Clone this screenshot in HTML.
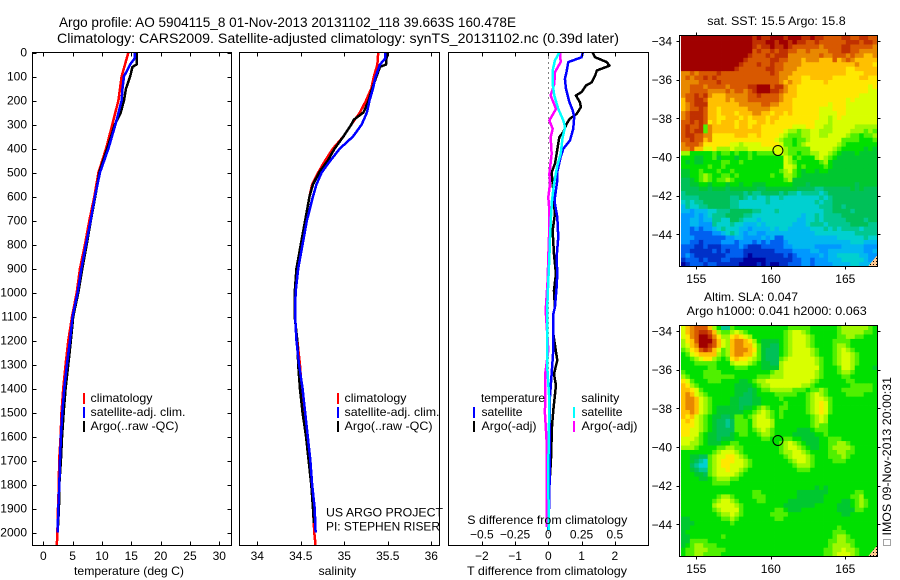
<!DOCTYPE html>
<html lang="en">
<head>
<meta charset="utf-8">
<title>Argo profile chart</title>
<style>
html,body{margin:0;padding:0;background:#fff;width:900px;height:580px;overflow:hidden}
svg{display:block;font-family:"Liberation Sans",sans-serif;font-size:12px;fill:#000}
.t14{font-size:14px}
</style>
</head>
<body>
<svg id="chart" xmlns="http://www.w3.org/2000/svg" width="900" height="580" viewBox="0 0 900 580">
  <defs>
    <pattern id="land" width="3" height="3" patternUnits="userSpaceOnUse">
      <rect width="3" height="3" fill="#ffc890"/>
      <rect width="1" height="1" fill="#000"/>
    </pattern>
  </defs>
  <rect width="900" height="580" fill="#fff"/>
  <text class="t14" x="59" y="27" textLength="457" lengthAdjust="spacingAndGlyphs">Argo profile: AO 5904115_8 01-Nov-2013 20131102_118 39.663S 160.478E</text>
  <text class="t14" x="57" y="43" textLength="562" lengthAdjust="spacingAndGlyphs">Climatology: CARS2009. Satellite-adjusted climatology: synTS_20131102.nc (0.39d later)</text>

  <g id="maps"></g>
  <g id="panels"></g>

  <text x="74" y="575" textLength="110" lengthAdjust="spacingAndGlyphs">temperature (deg C)</text>
  <text x="318.5" y="575" textLength="37.7" lengthAdjust="spacingAndGlyphs">salinity</text>
  <text x="467" y="575" textLength="160" lengthAdjust="spacingAndGlyphs">T difference from climatology</text>
  <text x="467.3" y="524" textLength="160" lengthAdjust="spacingAndGlyphs">S difference from climatology</text>

  <g>
    <rect x="83" y="393" width="2" height="11" fill="#f00"/>
    <rect x="83" y="407" width="2" height="11" fill="#00f"/>
    <rect x="83" y="421" width="2" height="11" fill="#000"/>
    <text x="90.5" y="402" textLength="62" lengthAdjust="spacingAndGlyphs">climatology</text>
    <text x="90.5" y="416" textLength="95" lengthAdjust="spacingAndGlyphs">satellite-adj. clim.</text>
    <text x="90.5" y="430" textLength="88" lengthAdjust="spacingAndGlyphs">Argo(..raw -QC)</text>
  </g>
  <g>
    <rect x="337" y="393" width="2" height="11" fill="#f00"/>
    <rect x="337" y="407" width="2" height="11" fill="#00f"/>
    <rect x="337" y="421" width="2" height="11" fill="#000"/>
    <text x="344.5" y="402" textLength="62" lengthAdjust="spacingAndGlyphs">climatology</text>
    <text x="344.5" y="416" textLength="95" lengthAdjust="spacingAndGlyphs">satellite-adj. clim.</text>
    <text x="344.5" y="430" textLength="88" lengthAdjust="spacingAndGlyphs">Argo(..raw -QC)</text>
  </g>
  <g>
    <text x="481" y="402" textLength="64" lengthAdjust="spacingAndGlyphs">temperature</text>
    <rect x="473" y="407" width="2" height="11" fill="#00f"/>
    <rect x="473" y="421" width="2" height="11" fill="#000"/>
    <text x="481.5" y="416" textLength="41" lengthAdjust="spacingAndGlyphs">satellite</text>
    <text x="481.5" y="430" textLength="55" lengthAdjust="spacingAndGlyphs">Argo(-adj)</text>
    <text x="581.3" y="402" textLength="38" lengthAdjust="spacingAndGlyphs">salinity</text>
    <rect x="573" y="407" width="2" height="11" fill="#0ff"/>
    <rect x="573" y="421" width="2" height="11" fill="#f0f"/>
    <text x="581.5" y="416" textLength="41" lengthAdjust="spacingAndGlyphs">satellite</text>
    <text x="581.5" y="430" textLength="56" lengthAdjust="spacingAndGlyphs">Argo(-adj)</text>
  </g>

  <text x="326" y="516.5" textLength="117" lengthAdjust="spacingAndGlyphs">US ARGO PROJECT</text>
  <text x="326" y="530.5" textLength="114" lengthAdjust="spacingAndGlyphs">PI: STEPHEN RISER</text>

  <text x="707.3" y="25" textLength="138.4" lengthAdjust="spacingAndGlyphs">sat. SST: 15.5 Argo: 15.8</text>
  <text x="704" y="301" textLength="94" lengthAdjust="spacingAndGlyphs">Altim. SLA: 0.047</text>
  <text x="686.7" y="315" textLength="180" lengthAdjust="spacingAndGlyphs">Argo h1000: 0.041 h2000: 0.063</text>

  <rect x="883.5" y="539.5" width="7" height="6" fill="none" stroke="#444" stroke-width="1" stroke-dasharray="1 1"/>
  <text transform="rotate(-90 891 535.5)" x="891" y="535.5" textLength="158.5" lengthAdjust="spacingAndGlyphs">IMOS 09-Nov-2013 20:00:31</text>
</svg>
<script>
/* ---------- profile data (depth in m) ---------- */
const tempTicks = [0, 5, 10, 15, 20, 25, 30];
const salTicks = [34, 34.5, 35, 35.5, 36];
const salTickLabels = ['34', '34.5', '35', '35.5', '36'];
const depthTicks = [0, 100, 200, 300, 400, 500, 600, 700, 800, 900, 1000, 1100, 1200, 1300, 1400, 1500, 1600, 1700, 1800, 1900, 2000];
const tDiffTicks = [-2, -1, 0, 1, 2];
const sDiffTicks = [-0.5, -0.25, 0, 0.25, 0.5];
const sDiffTickLabels = ['\u22120.5', '\u22120.25', '0', '0.25', '0.5'];

const climDepth = [0, 100, 200, 300, 400, 500, 600, 700, 800, 900, 1000, 1100, 1200, 1300, 1400, 1500, 1600, 1700, 1800, 1900, 2000, 2055];
const tempClim = [14.5, 13.35, 12.8, 11.76, 10.7, 9.4, 8.7, 7.85, 7.1, 6.25, 5.7, 4.9, 4.26, 3.8, 3.4, 3.1, 2.95, 2.7, 2.65, 2.5, 2.4, 2.3];

const tempSatDepth = [0, 25, 50, 100, 150, 200, 300, 400, 500, 600, 700, 800, 900, 1000, 1100, 1200, 1300, 1400, 1500, 1600, 1700, 1800, 1900, 2000];
const tempSat = [15.6, 15.55, 14.8, 13.75, 13.5, 13.35, 12.3, 11.1, 9.66, 8.8, 8.07, 7.27, 6.5, 5.85, 5.0, 4.55, 4.03, 3.58, 3.24, 3.0, 2.84, 2.73, 2.56, 2.44];

const tempArgoDepth = [0, 50, 60, 100, 150, 200, 250, 300, 400, 500, 600, 700, 800, 900, 1000, 1100, 1200, 1300, 1400, 1500, 1600, 1700, 1800, 1900, 2000];
const tempArgo = [15.9, 15.9, 15.2, 14.8, 14.1, 13.75, 13.2, 12.2, 10.9, 9.55, 8.86, 8.1, 7.4, 6.65, 5.97, 5.1, 4.7, 4.26, 3.8, 3.47, 3.2, 3.0, 2.73, 2.67, 2.44];

const salClimDepth = [0, 50, 100, 150, 200, 250, 280, 300, 350, 400, 450, 500, 550, 600, 700, 800, 900, 1000, 1100, 1200, 1300, 1400, 1500, 1600, 1700, 1800, 1900, 2000, 2055];
const salClim = [35.39, 35.38, 35.34, 35.31, 35.25, 35.18, 35.12, 35.08, 34.99, 34.87, 34.78, 34.7, 34.63, 34.6, 34.55, 34.51, 34.45, 34.43, 34.43, 34.46, 34.49, 34.51, 34.54, 34.57, 34.6, 34.62, 34.64, 34.655, 34.67];

const salSatDepth = [0, 25, 50, 100, 150, 200, 250, 300, 350, 400, 450, 500, 550, 600, 700, 800, 900, 1000, 1100, 1200, 1300, 1400, 1500, 1600, 1700, 1800, 1900, 2000];
const salSat = [35.47, 35.47, 35.41, 35.36, 35.33, 35.29, 35.26, 35.2, 35.1, 34.95, 34.84, 34.74, 34.68, 34.64, 34.57, 34.52, 34.47, 34.44, 34.435, 34.45, 34.48, 34.52, 34.55, 34.58, 34.61, 34.63, 34.66, 34.67];

const salArgoDepth = [0, 50, 60, 100, 150, 200, 250, 280, 300, 350, 400, 450, 500, 550, 600, 700, 800, 900, 1000, 1100, 1200, 1300, 1400, 1500, 1600, 1700, 1800, 1900, 1960];
const salArgo = [35.49, 35.48, 35.41, 35.37, 35.32, 35.28, 35.22, 35.11, 35.08, 34.99, 34.89, 34.81, 34.71, 34.64, 34.6, 34.55, 34.5, 34.45, 34.43, 34.43, 34.46, 34.47, 34.49, 34.52, 34.56, 34.59, 34.62, 34.64, 34.65];

const tDiffSatDepth = [0, 20, 40, 80, 110, 150, 205, 240, 267, 318, 367, 401, 436, 498, 533, 603, 631, 686, 769, 853, 922, 978, 1061, 1090, 1240, 1340, 1435, 1660, 1866, 1990];
const tDiffSat = [1.04, 1.0, 0.6, 0.55, 0.5, 0.53, 0.63, 0.73, 0.78, 0.75, 0.65, 0.45, 0.37, 0.27, 0.27, 0.2, 0.2, 0.27, 0.3, 0.25, 0.27, 0.25, 0.2, 0.15, 0.15, 0.1, 0.05, 0.05, 0.03, 0];

const tDiffArgoDepth = [0, 20, 40, 55, 75, 96, 124, 138, 165, 179, 207, 228, 256, 276, 297, 332, 353, 422, 464, 499, 575, 631, 672, 742, 839, 922, 992, 1061, 1090, 1172, 1283, 1339, 1387, 1491, 1560, 1699, 1810, 1935];
const tDiffArgo = [1.33, 1.41, 1.76, 1.84, 1.46, 1.41, 1.31, 1.13, 1.0, 0.83, 0.95, 0.98, 0.85, 0.65, 0.55, 0.45, 0.33, 0.25, 0.2, 0.1, 0.15, 0.17, 0.2, 0.13, 0.17, 0.23, 0.17, 0.2, 0.15, 0.15, 0.27, 0.17, 0.23, 0.15, 0.11, 0.08, 0.03, 0];

const sDiffSatDepth = [0, 33, 75, 131, 179, 235, 283, 311, 353, 422, 471, 547, 617, 686, 769, 853, 950, 1061, 1090, 1310, 1450, 1727, 1990];
const sDiffSat = [0.083, 0.05, 0.033, 0.033, 0.045, 0.075, 0.113, 0.126, 0.108, 0.093, 0.068, 0.043, 0.028, 0.02, 0.013, 0.008, 0, -0.008, -0.008, -0.008, 0.008, 0, 0.003];

const sDiffArgoDepth = [0, 40, 82, 131, 179, 235, 283, 318, 353, 422, 506, 547, 603, 658, 728, 853, 950, 1061, 1090, 1240, 1339, 1505, 1616, 1977];
const sDiffArgo = [0.088, 0.093, 0.05, 0.045, 0.018, 0.058, 0.008, 0.033, 0.018, 0.025, 0.008, 0.013, 0, 0.008, 0.008, 0, -0.005, -0.018, -0.018, 0, -0.023, -0.025, -0.013, -0.013];

/* ---------- map data: level codes a..s index mapPalette ---------- */
const mapLonTicks = [155, 160, 165];
const mapLatTicks = [-34, -36, -38, -40, -42, -44];
const argoLon = 160.478;
const argoLat = -39.663;
const mapPalette = ['#00009c','#0030c8','#0060f0','#0098ff','#00b8f0','#00d0d0','#00c890','#00c058','#00c830','#00e000','#50f000','#a0f800','#d8ff00','#ffe800','#ffc000','#e88800','#d85800','#c03000','#a00000'];
const sstRows = [
"sssssssssss sssssrsrrss srsssrrsrrq qqqrrqqrrqq",
"sssssssssss sssssrrrssr ssrsrrqqrqq qqqqrrrqrrq",
"sssssssssss sssssrqrrsr rsrqqqqqqpq qqqrrqqqqqp",
"sssssssssss sssssqrqqrq rrqqppqpppp qqqrrqqpppp",
"sssssssssss ssssrqqqrqr rrpppppppqp pqqqpqppoop",
"sssssssssss sssrqqqqqrr qqpppopppoo oqopqpooooo",
"sssssssssss ssrqqqrqqrq qppppoooooo oooooopooon",
"sssssssssss srqqqqqqrrq qpppooooooo oooonnooooo",
"ppqpqqqqrqq qqqqqqqqqrq pppoooooooo oooonnnnooo",
"pqpqqrqrqqq qqqqqqqqqqq ppooonnoooo onnnnnnoonn",
"ppppqqqqrqq qqqqqqqqqqq popoonnnnno nnnnnnnnnnn",
"ppqqqpqqqqp qqqqrrsssqr rpoonnnnnnn nnnnnnnnnmn",
"ppqqqqppppq pqqpqrsssrr qpoonnnnnnn nnnnnnnnnmm",
"pqqrqrpooop ppppqqrqqqq pooonnnnnnn nnnnnnnmmmm",
"oqqrrqoooop opppqqqqqqq poonnnnnnnn nnnnmnmmmmm",
"opqrrrooooo oopppppqqpp ooonnnnnnnn mnnnmmmmmmm",
"opqqrqoonoo oooopppppoo ooonnnnnnmm mnnnmmmmmmm",
"pqrrrqoonoo onoooppoono ononnnnnnmm mmnnmmmmmmm",
"pqrrrqoonno oononooonoo nnnnnnnnnmm lmnmmmmmmmm",
"qqrqrqnonoo onoonnoonon nnnnnnnnmmm lmmmmmmmmmm",
"qrqqrkpoooo onoonoonnnn nnnmmmnnmml lmmmmmlllll",
"qrqrrkpoooo ooooooonnnn nmllkllmmll lmmmmlllklk",
"qrrqqppnnnn nooonnonnnn mlkkkllmmll mmmmlkkjkkl",
"qqrqqopnnnn nnnnnnnnnnm lkkjkklmmmm mmmkkkkjjjk",
"pqqqpnnnnnn mmlmmmmnnnn mkkjklmmmmm mmlkjjjjjjj",
"ppqoommnlll mlllmmmmmmm mlkkkkkmmmm mlkjjjjjiji",
"lljjjjjkjkk jkjjkjkkkkm mlkkjkkllmm lkjiiijiiii",
"jjjiijjkijj jijjkjjjjjj jmljkjjjlml kjiiiiiiiii",
"jijiijjjjkk jjkjjjjjjjj jmlkjjjjjkl jiiiiiiiiii",
"jjjjjjkjjkj jjjjjjjjjjj jmmljkjjjjk jiiiiiiiiii",
"iijjkjjjkjj kjjjjjjjjjj klmkjijjijj iiiiiiiiiii",
"iijjklkjjkk jkjjjjjjjkj jllkjiiiiii iiiiiiiiiii",
"hhijklkjkkl kjjjjjjjjjj jkliiiiiiii iiiiiiiiiii",
"hhiijjijjji jjijjiiijjj jjjiiihiiii iiiiiihiiii",
"hhhhiihiiih iiiiiihhiii iiiihhhhggh hhhhhihihhh",
"ghhhhhhhhhh hhhghgghhhh ghggfggggfg hhhhhhhhhhh",
"gggghhhhhhh gghgfgffgff gffffffffgf ghhhhhhhhhh",
"fgfgghhhhhh ggffffffgff ffffffffgfg ghhhhhhhhhh",
"egffgghhhhh ggfffffffff fffffffffgg ghhghhhhhhh",
"eedeeeffggg hhhhhggfffg ffffffffffg ghhhhghhhhh",
"dddedefgggh hhhggffffff fffffeffgfg ggghhhhhhhh",
"ddeedeeggff hhgfffeffff ffffeeffgfg gggghhhhghh",
"ddeedddgfff gffeeefefff fffeeefgggf ggggghhhhgg",
"ddcdcddefgf ffeedeeeefe ffeeeeefffg fgfggggfggg",
"ddcccccddef gfedeeddeee eeeeeeeefff ffffffggggg",
"dddcccccccd deeddddedec ceeeeeeeeee eeffffffgff",
"ddccbccccdd dcdddcdcdcc cdeeeeeeeee eeeeefffeee",
"cccbbcbbbcc ccdcbbbcccc cddeeeeeddd dddeeeeeddd",
"ccbbbbbcbcb cccbbbbbbbc cccddddeedd eeeeeeeedde",
"cdcbbbbbbbc cccbabbbbbb bcbcddddded eefffffeedd",
"bcccbcbbbcc bbbaaaaabbb bbbccddcddd eeefffffedd",
"abcccbccbbb bbaaaababaa bbcccddcddd deeeeffeeed"
];
const slaRows = [
"mopqqqoljgg kjjjjjjjjjj jjkkkkkjjjj jjkllllllkj",
"mopqrrqolkk lmlkjjjjjjj jklmmlkjjjj jjklllllkkj",
"mnpqssrpnll nonmljjjjjj jklmmmlkjjj jjkkllkkjjj",
"lnoqsssqoml opponljiiii jklmmmlkjjj jkkkkjjjjjj",
"lmopssrqoml oppoomkiihh jklmmmlkjjj jkllkjjjjjj",
"klnoqrqomkl oppponkihhh jklmmmmlkjj jklmlkjjjjj",
"jkmnoooolkl oppoomkihhh jklmmmmlkjj jklmmlkjjjj",
"jjklmnnlkjk nonnmlkihhh klmmmmmmlkj jklmmlkjjjj",
"jjjkkkkkjjj lmmmlkjiihh lmmmmmmmlkj jklmmlkjjjj",
"jjjjjjkkjjj jkkkjjjiiii lmmmmmmmmkj jjkmmljjjji",
"kjjjjkkkkjj jjjjjjjjjkl lmmmmmmmlkj jjkllkjjjjj",
"lkjjjkkkkkk kjjjjjkkkll lmmmmmmmlkj jjjkkjjjjjj",
"nmkjjjkkkjj jjiijkllmmm mmmmmmmlkjj jjjjkkjjjjj",
"onlkjjjjjjj jiiiijkllmm mmmmmllkjjj jjjjjkkkkkj",
"oonmkjjjjjj jiiihijkkll lllkkkjkklk jjjkkkkkkkj",
"opomlkjjjjj jiihhijjjjk kkkkjjklmlk jjjjkkkkjjj",
"oppomlkjjjj iihhhiijjjj kjjjjjklmml kjjjjjjjjjj",
"oppomlkjjjj iihhhiijjjj jkjjjjklmnm kjjjjjjjjjj",
"oppomlkjiii iihiijklkjj kkjjjjklmnm kjjjjjjjjjj",
"oopomlkjiii iiijjklmlkj kjjjjjklmnm kjjjjjjjjjj",
"onomlkjiihh ikkjklmmlkj kjjjjjjklml jjjjjjjjjjj",
"nonmlkjihhg hkkkjlmmmlj jjjjjjjklml jjjjjjjjjjj",
"nnnmlkjihhg hkkkjlmmmlj jjjjjjjklkk jjjjjjjjjjj",
"nnmmlkjihhh hkkkjklmlkj jjjjiiijkkk jjjjjjjjjjj",
"nnmmkjiihhh ijkkjjkllkj jjjiiiiijjk jjjjjjjjjjj",
"mmmlkjiihii ijjjjjjkkjj jkkjjiiiijj kkkjjjjjjjj",
"mmllkjiiijj kkjjjjjjjjj klmlkjiiijj kkllkjjjjjj",
"lllkjjjjkkl lkkjjjjjjjj klmmlkjiijj kllllkjjjjj",
"jjjjjjjklmm mlkjjjjjjjj kllmmlkjjjj kkllkkjjjjj",
"jjiihhklmmn nmlkjjjjjjj jklmmmlkjjj kkklkjjjjjj",
"jjihgfklmnn nmmlkjjjjjj jjklmmlkjjj jkkkjjjjjjj",
"jjhgffklmnn mmmlkjjjjjj jjjklllkjjj jjjjjjjjjjj",
"jjihggklmmn mmlkjjjjjjj jjjjkkkjjjj jjjjjjjjjjj",
"jjjiihklmmm mlkjjjjjjjj jjjjjjjjjjj jjjjjjjjjjj",
"jjjjiijklll kkjjjjjjjjj jjjjjjjjjjj jjjjjjjjjjj",
"jjjjjjjkkkk jjjjjjjjjjj jjjjjjjjjjj jjjjjjjjjjj",
"jjjjjjjjjjj jjjjjjjjjjj jjjjjjjjiji jjjjjjjjjjj",
"jjjjjjjjjjj jjjjjkkjjjj jjjjiiiiiii jjjjjjkkjjj",
"jjjjjjjjkll kjjjjkkkjjj jjjjiiiiiij jjjjjkkljjj",
"jjjjjjjklmm lkjjjjkkjjj jjiiiiiiiij jjjiijklkjj",
"jjjjjjjlmmm mlkjjjjjjjj jiiiiiiijjj jjiiijklkjj",
"jjjjjjjklmm mmkjjjjjjjk kjiiijjjjjj jjiiiikkjjj",
"jjjjjjjjkll mlkjjjjjjkk kkjjjjjjjjj jjjiijjjjjj",
"iijjjjjjjkk lkjjjjjjjjk kjjjjjjjjjj jjjjjjjjjjj",
"iiijjjjjjjj kjjjjjjjjjj jjjjjjjjjjj jjjjjjjjjjj",
"iijjjjjjjjj jjjjjjjjjjj jjjjjjjjjjj jjkjjjjjjjj",
"ijjjjjjjjjj jjjjjjjjjjj jjjjjjjjjjj jkkkjjjjjjj",
"iijjjjjjjkj jjjjjjjjjjj jjjjjjjjjjj jkllkjjjjjj",
"iikkkkjjjjj jjjjjjjjjjj jjjjjjjjjjj kkllkkjjjjj",
"ijkllkkkjjj jjjjjjjjjjj jjjjjjjjjjj kllllkjjjjj",
"jkklllkkkkj jjjjjjjjjjj jjjjjjjjjjk kllmllkjjjj",
"jkkllkkkkjj jjjjjjjjjjj jjjjjjjjjjk klmmmlkjjjj"
];

/* ---------- axis functions ---------- */
const depthToY = d => 52.5 + d * 0.24;
const tempToX = t => 43.3 + t * 5.867;
const salToX = s => 257.3 + (s - 34) * 87;
const tDiffToX = t => 548.3 + t * 33.25;
const sDiffToX = s => 548.3 + s * 133;
const lonToX = lon => 696.3 + (lon - 155) * 14.9;
const latToY = (lat, top) => top + 5.5 + (-34 - lat) * 19.33;

const NS = 'http://www.w3.org/2000/svg';
const panelsLayer = document.getElementById('panels');
const mapsLayer = document.getElementById('maps');

function mk(tag, attrs, parent) {
  const el = document.createElementNS(NS, tag);
  for (const k in attrs) el.setAttribute(k, attrs[k]);
  parent.appendChild(el);
  return el;
}
function drawSeries(name, color, width, depths, values, toX) {
  const pts = values.map((v, i) => toX(v).toFixed(2) + ',' + depthToY(depths[i]).toFixed(2)).join(' ');
  const el = mk('polyline', {points: pts, fill: 'none', stroke: color, 'stroke-width': width, 'shape-rendering': 'crispEdges', 'stroke-linejoin': 'round'}, panelsLayer);
  
  
}
function drawFrame(name, x, y, w, h) {
  const el = mk('rect', {x: x, y: y, width: w, height: h, fill: 'none', stroke: '#000', 'stroke-width': 1, 'shape-rendering': 'crispEdges'}, panelsLayer);
  
  
}
function tickLine(parent, x1, y1, x2, y2) {
  const el = mk('line', {x1: x1, y1: y1, x2: x2, y2: y2, stroke: '#000', 'stroke-width': 1, 'shape-rendering': 'crispEdges'}, parent);
  
  
}
function label(parent, name, txt, x, y, anchor) {
  const el = mk('text', {x: x, y: y, 'text-anchor': anchor}, parent);
  el.textContent = txt;
  
  
}
function xTicks(ticks, toX, labels, name, top, bottom, baseline, drawTop) {
  ticks.forEach((t, i) => {
    const x = Math.round(toX(t)) + 0.5;
    if (drawTop) {
      tickLine(panelsLayer, x, top, x, top + 4);
      tickLine(panelsLayer, x, bottom - 4, x, bottom);
    }
    label(panelsLayer, name, labels[i], toX(t), baseline, 'middle');
  });
}

/* ---------- difference panel zero line ---------- */
const zeroLine = mk('line', {x1: tDiffToX(0), y1: 52.5, x2: tDiffToX(0), y2: 545.5, stroke: '#000', 'stroke-width': 1, 'stroke-dasharray': '1 4', 'shape-rendering': 'crispEdges'}, panelsLayer);



/* ---------- series ---------- */
drawSeries('temperature-climatology-line', '#f00', 2.5, climDepth, tempClim, tempToX);
drawSeries('temperature-argo-line', '#000', 2.5, tempArgoDepth, tempArgo, tempToX);
drawSeries('temperature-satellite-line', '#00f', 2.5, tempSatDepth, tempSat, tempToX);
drawSeries('salinity-climatology-line', '#f00', 2.5, salClimDepth, salClim, salToX);
drawSeries('salinity-argo-line', '#000', 2.5, salArgoDepth, salArgo, salToX);
drawSeries('salinity-satellite-line', '#00f', 2.5, salSatDepth, salSat, salToX);
drawSeries('t-difference-argo-line', '#000', 2.5, tDiffArgoDepth, tDiffArgo, tDiffToX);
drawSeries('t-difference-satellite-line', '#00f', 2.5, tDiffSatDepth, tDiffSat, tDiffToX);
drawSeries('s-difference-argo-line', '#f0f', 2.5, sDiffArgoDepth, sDiffArgo, sDiffToX);
drawSeries('s-difference-satellite-line', '#0ff', 2.5, sDiffSatDepth, sDiffSat, sDiffToX);

/* ---------- frames and ticks ---------- */
drawFrame('temperature-panel-frame', 32.5, 52.5, 199, 493);
drawFrame('salinity-panel-frame', 239.5, 52.5, 200, 493);
drawFrame('difference-panel-frame', 448.5, 52.5, 200, 493);

xTicks(tempTicks, tempToX, tempTicks.map(String), 'temperature-tick-label', 52.5, 545.5, 560, true);
xTicks(salTicks, salToX, salTickLabels, 'salinity-tick-label', 52.5, 545.5, 560, true);
xTicks(tDiffTicks, tDiffToX, tDiffTicks.map(v => v < 0 ? '\u2212' + (-v) : String(v)), 't-difference-tick-label', 52.5, 545.5, 560, true);
xTicks(sDiffTicks, sDiffToX, sDiffTickLabels, 's-difference-tick-label', 52.5, 545.5, 538.5, false);

depthTicks.forEach(d => {
  const y = Math.round(depthToY(d)) + 0.5;
  tickLine(panelsLayer, 32.5, y, 36.5, y);
  tickLine(panelsLayer, 227.5, y, 231.5, y);
  label(panelsLayer, 'depth-tick-label', String(d), 27, depthToY(d) + 4, 'end');
});

/* ---------- maps ---------- */
function drawMap(name, rows, top, bottom) {
  const group = mk('g', {}, mapsLayer);
  
  
  const lonStart = 153.97, lonStep = 13.16 / 44;
  const latStart = -33.72, latStep = 11.95 / 52;
  rows.forEach((row, r) => {
    const cells = row.replace(/ /g, '');
    for (let c = 0; c < cells.length; c++) {
      const x = lonToX(lonStart + c * lonStep);
      const y = latToY(latStart - r * latStep, top);
      const code = cells.charCodeAt(c) - 97;
      const cell = mk('rect', {x: x.toFixed(2), y: y.toFixed(2), width: (lonStep * 14.9 + 0.4).toFixed(2), height: (latStep * 19.33 + 0.4).toFixed(2), fill: mapPalette[code]}, group);
      
      
    }
  });
  const land = mk('polygon', {points: '877,' + (top + 220) + ' 877,' + (top + 231) + ' 868,' + (top + 231), fill: 'url(#land)'}, group);
  
  
  const frame = mk('rect', {x: 679.5, y: top, width: 198, height: bottom - top, fill: 'none', stroke: '#000', 'stroke-width': 1, 'shape-rendering': 'crispEdges'}, group);
  
  
  mapLonTicks.forEach(lon => {
    const x = Math.round(lonToX(lon)) + 0.5;
    tickLine(group, x, top - 3, x, top);
    tickLine(group, x, bottom, x, bottom + 3);
    label(group, 'longitude-tick-label', String(lon), lonToX(lon), bottom + 16.5, 'middle');
  });
  mapLatTicks.forEach(lat => {
    const y = Math.round(latToY(lat, top)) + 0.5;
    tickLine(group, 676.5, y, 679.5, y);
    tickLine(group, 877.5, y, 880.5, y);
    label(group, 'latitude-tick-label', '\u2212' + (-lat), 672, latToY(lat, top) + 4.5, 'end');
  });
  const marker = mk('circle', {cx: lonToX(argoLon), cy: latToY(argoLat, top), r: 5, fill: 'none', stroke: '#000', 'stroke-width': 1}, group);
  
  
}
drawMap('sst-map', sstRows, 35.5, 266.5);
drawMap('sla-map', slaRows, 325.5, 556.5);
</script>
</body>
</html>
